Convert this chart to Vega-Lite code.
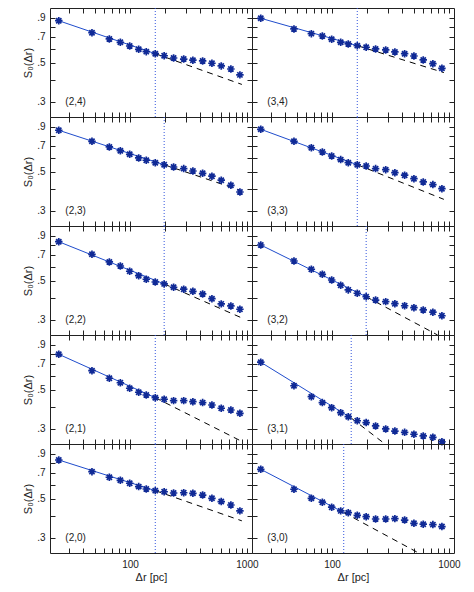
{
"$schema":"https://vega.github.io/schema/vega-lite/v6.json",
"padding":{"left":22,"top":7,"right":5,"bottom":5},
"background":"white",
"columns":2,"spacing":0,"bounds":"flush",
"datasets":{
"pts":[
{"p":"2,4","x":24.6,"y":0.865},{"p":"2,4","x":47.3,"y":0.740},{"p":"2,4","x":66.6,"y":0.682},{"p":"2,4","x":82.7,"y":0.653},{"p":"2,4","x":99.4,"y":0.622},{"p":"2,4","x":118.7,"y":0.596},{"p":"2,4","x":137.8,"y":0.578},{"p":"2,4","x":164.5,"y":0.563},{"p":"2,4","x":196,"y":0.548},{"p":"2,4","x":236,"y":0.532},{"p":"2,4","x":288,"y":0.525},{"p":"2,4","x":345,"y":0.517},{"p":"2,4","x":418,"y":0.512},{"p":"2,4","x":502,"y":0.497},{"p":"2,4","x":603,"y":0.480},{"p":"2,4","x":729,"y":0.461},{"p":"2,4","x":871,"y":0.427},
{"p":"3,4","x":24.6,"y":0.893},{"p":"3,4","x":47.3,"y":0.777},{"p":"3,4","x":66.6,"y":0.731},{"p":"3,4","x":82.7,"y":0.709},{"p":"3,4","x":99.4,"y":0.679},{"p":"3,4","x":118.7,"y":0.653},{"p":"3,4","x":137.8,"y":0.639},{"p":"3,4","x":164.5,"y":0.625},{"p":"3,4","x":196,"y":0.612},{"p":"3,4","x":236,"y":0.599},{"p":"3,4","x":288,"y":0.591},{"p":"3,4","x":345,"y":0.576},{"p":"3,4","x":418,"y":0.563},{"p":"3,4","x":502,"y":0.546},{"p":"3,4","x":603,"y":0.519},{"p":"3,4","x":729,"y":0.494},{"p":"3,4","x":871,"y":0.465},
{"p":"2,3","x":24.6,"y":0.859},{"p":"2,3","x":47.3,"y":0.744},{"p":"2,3","x":66.6,"y":0.691},{"p":"2,3","x":82.7,"y":0.658},{"p":"2,3","x":99.4,"y":0.628},{"p":"2,3","x":118.7,"y":0.599},{"p":"2,3","x":137.8,"y":0.581},{"p":"2,3","x":164.5,"y":0.563},{"p":"2,3","x":196,"y":0.548},{"p":"2,3","x":236,"y":0.532},{"p":"2,3","x":288,"y":0.521},{"p":"2,3","x":345,"y":0.505},{"p":"2,3","x":418,"y":0.490},{"p":"2,3","x":502,"y":0.472},{"p":"2,3","x":603,"y":0.448},{"p":"2,3","x":729,"y":0.419},{"p":"2,3","x":871,"y":0.384},
{"p":"3,3","x":24.6,"y":0.870},{"p":"3,3","x":47.3,"y":0.744},{"p":"3,3","x":66.6,"y":0.684},{"p":"3,3","x":82.7,"y":0.647},{"p":"3,3","x":99.4,"y":0.614},{"p":"3,3","x":118.7,"y":0.586},{"p":"3,3","x":137.8,"y":0.563},{"p":"3,3","x":164.5,"y":0.548},{"p":"3,3","x":196,"y":0.539},{"p":"3,3","x":236,"y":0.521},{"p":"3,3","x":288,"y":0.514},{"p":"3,3","x":345,"y":0.494},{"p":"3,3","x":418,"y":0.478},{"p":"3,3","x":502,"y":0.457},{"p":"3,3","x":603,"y":0.438},{"p":"3,3","x":729,"y":0.423},{"p":"3,3","x":871,"y":0.401},
{"p":"2,2","x":24.6,"y":0.832},{"p":"2,2","x":47.3,"y":0.706},{"p":"2,2","x":66.6,"y":0.639},{"p":"2,2","x":82.7,"y":0.606},{"p":"2,2","x":99.4,"y":0.566},{"p":"2,2","x":118.7,"y":0.534},{"p":"2,2","x":137.8,"y":0.510},{"p":"2,2","x":164.5,"y":0.492},{"p":"2,2","x":196,"y":0.480},{"p":"2,2","x":236,"y":0.459},{"p":"2,2","x":288,"y":0.448},{"p":"2,2","x":345,"y":0.436},{"p":"2,2","x":418,"y":0.421},{"p":"2,2","x":502,"y":0.396},{"p":"2,2","x":603,"y":0.370},{"p":"2,2","x":729,"y":0.360},{"p":"2,2","x":871,"y":0.345},
{"p":"3,2","x":24.6,"y":0.797},{"p":"3,2","x":47.3,"y":0.647},{"p":"3,2","x":66.6,"y":0.581},{"p":"3,2","x":82.7,"y":0.544},{"p":"3,2","x":99.4,"y":0.505},{"p":"3,2","x":118.7,"y":0.472},{"p":"3,2","x":137.8,"y":0.444},{"p":"3,2","x":164.5,"y":0.425},{"p":"3,2","x":196,"y":0.406},{"p":"3,2","x":236,"y":0.389},{"p":"3,2","x":288,"y":0.381},{"p":"3,2","x":345,"y":0.371},{"p":"3,2","x":418,"y":0.361},{"p":"3,2","x":502,"y":0.352},{"p":"3,2","x":603,"y":0.342},{"p":"3,2","x":729,"y":0.332},{"p":"3,2","x":871,"y":0.317},
{"p":"2,1","x":24.6,"y":0.794},{"p":"2,1","x":47.3,"y":0.641},{"p":"2,1","x":66.6,"y":0.581},{"p":"2,1","x":82.7,"y":0.548},{"p":"2,1","x":99.4,"y":0.510},{"p":"2,1","x":118.7,"y":0.484},{"p":"2,1","x":137.8,"y":0.467},{"p":"2,1","x":164.5,"y":0.451},{"p":"2,1","x":196,"y":0.442},{"p":"2,1","x":236,"y":0.434},{"p":"2,1","x":288,"y":0.434},{"p":"2,1","x":345,"y":0.428},{"p":"2,1","x":418,"y":0.423},{"p":"2,1","x":502,"y":0.410},{"p":"2,1","x":603,"y":0.393},{"p":"2,1","x":729,"y":0.384},{"p":"2,1","x":871,"y":0.368},
{"p":"3,1","x":24.6,"y":0.716},{"p":"3,1","x":47.3,"y":0.527},{"p":"3,1","x":66.6,"y":0.457},{"p":"3,1","x":82.7,"y":0.423},{"p":"3,1","x":99.4,"y":0.396},{"p":"3,1","x":118.7,"y":0.371},{"p":"3,1","x":137.8,"y":0.352},{"p":"3,1","x":164.5,"y":0.334},{"p":"3,1","x":196,"y":0.326},{"p":"3,1","x":236,"y":0.312},{"p":"3,1","x":288,"y":0.300},{"p":"3,1","x":345,"y":0.292},{"p":"3,1","x":418,"y":0.287},{"p":"3,1","x":502,"y":0.280},{"p":"3,1","x":603,"y":0.274},{"p":"3,1","x":729,"y":0.269},{"p":"3,1","x":871,"y":0.254},
{"p":"2,0","x":24.6,"y":0.829},{"p":"2,0","x":47.3,"y":0.712},{"p":"2,0","x":66.6,"y":0.662},{"p":"2,0","x":82.7,"y":0.636},{"p":"2,0","x":99.4,"y":0.612},{"p":"2,0","x":118.7,"y":0.586},{"p":"2,0","x":137.8,"y":0.568},{"p":"2,0","x":164.5,"y":0.556},{"p":"2,0","x":196,"y":0.548},{"p":"2,0","x":236,"y":0.539},{"p":"2,0","x":288,"y":0.541},{"p":"2,0","x":345,"y":0.537},{"p":"2,0","x":418,"y":0.525},{"p":"2,0","x":502,"y":0.503},{"p":"2,0","x":603,"y":0.482},{"p":"2,0","x":729,"y":0.461},{"p":"2,0","x":871,"y":0.427},
{"p":"3,0","x":24.6,"y":0.734},{"p":"3,0","x":47.3,"y":0.566},{"p":"3,0","x":66.6,"y":0.503},{"p":"3,0","x":82.7,"y":0.478},{"p":"3,0","x":99.4,"y":0.448},{"p":"3,0","x":118.7,"y":0.427},{"p":"3,0","x":137.8,"y":0.417},{"p":"3,0","x":164.5,"y":0.403},{"p":"3,0","x":196,"y":0.396},{"p":"3,0","x":236,"y":0.384},{"p":"3,0","x":288,"y":0.384},{"p":"3,0","x":345,"y":0.386},{"p":"3,0","x":418,"y":0.379},{"p":"3,0","x":502,"y":0.363},{"p":"3,0","x":603,"y":0.359},{"p":"3,0","x":729,"y":0.357},{"p":"3,0","x":871,"y":0.348}
],
"fit":[
{"p":"2,4","s":"solid","x":24.6,"y":0.865},{"p":"2,4","s":"solid","x":164.5,"y":0.563},{"p":"2,4","s":"dashed","x":164.5,"y":0.563},{"p":"2,4","s":"dashed","x":905,"y":0.377},
{"p":"3,4","s":"solid","x":24.6,"y":0.893},{"p":"3,4","s":"solid","x":164.5,"y":0.625},{"p":"3,4","s":"dashed","x":164.5,"y":0.625},{"p":"3,4","s":"dashed","x":905,"y":0.44},
{"p":"2,3","s":"solid","x":24.6,"y":0.859},{"p":"2,3","s":"solid","x":196,"y":0.548},{"p":"2,3","s":"dashed","x":196,"y":0.548},{"p":"2,3","s":"dashed","x":905,"y":0.39},
{"p":"3,3","s":"solid","x":24.6,"y":0.870},{"p":"3,3","s":"solid","x":164.5,"y":0.548},{"p":"3,3","s":"dashed","x":164.5,"y":0.548},{"p":"3,3","s":"dashed","x":905,"y":0.349},
{"p":"2,2","s":"solid","x":24.6,"y":0.832},{"p":"2,2","s":"solid","x":196,"y":0.480},{"p":"2,2","s":"dashed","x":196,"y":0.480},{"p":"2,2","s":"dashed","x":905,"y":0.308},
{"p":"3,2","s":"solid","x":24.6,"y":0.797},{"p":"3,2","s":"solid","x":196,"y":0.406},{"p":"3,2","s":"dashed","x":196,"y":0.406},{"p":"3,2","s":"dashed","x":800,"y":0.2466},
{"p":"2,1","s":"solid","x":24.6,"y":0.794},{"p":"2,1","s":"solid","x":164.5,"y":0.451},{"p":"2,1","s":"dashed","x":164.5,"y":0.451},{"p":"2,1","s":"dashed","x":905,"y":0.255},
{"p":"3,1","s":"solid","x":24.6,"y":0.716},{"p":"3,1","s":"solid","x":146,"y":0.346},{"p":"3,1","s":"dashed","x":146,"y":0.346},{"p":"3,1","s":"dashed","x":284,"y":0.2466},
{"p":"2,0","s":"solid","x":24.6,"y":0.829},{"p":"2,0","s":"solid","x":164.5,"y":0.556},{"p":"2,0","s":"dashed","x":164.5,"y":0.556},{"p":"2,0","s":"dashed","x":905,"y":0.375},
{"p":"3,0","s":"solid","x":24.6,"y":0.734},{"p":"3,0","s":"solid","x":126,"y":0.418},{"p":"3,0","s":"dashed","x":126,"y":0.418},{"p":"3,0","s":"dashed","x":551,"y":0.2466}
],
"cut":[{"p":"2,4","x":164.5},{"p":"3,4","x":164.5},{"p":"2,3","x":196},{"p":"3,3","x":164.5},{"p":"2,2","x":196},{"p":"3,2","x":196},{"p":"2,1","x":164.5},{"p":"3,1","x":146},{"p":"2,0","x":164.5},{"p":"3,0","x":126}]
},
"concat":[
{"width":202,"height":109,"layer":[
{"data":{"name":"cut"},"transform":[{"filter":"datum.p=='2,4'"}],"mark":{"type":"rule","color":"#3355dd","strokeDash":[1,2],"strokeWidth":1},"encoding":{"x":{"field":"x","type":"quantitative","scale":{"type":"log","domain":[20.7,1105],"nice":false},"axis":{"orient":"top","values":[30,40,50,60,70,80,90,100,200,300,400,500,600,700,800,900,1000],"labels":false,"title":null}}}},
{"data":{"name":"fit"},"transform":[{"filter":"datum.p=='2,4' && datum.s=='dashed'"}],"mark":{"type":"line","color":"black","strokeDash":[6,5],"strokeWidth":1,"clip":true},"encoding":{"x":{"field":"x","type":"quantitative","scale":{"type":"log","domain":[20.7,1105],"nice":false},"axis":null},"y":{"field":"y","type":"quantitative","scale":{"type":"log","domain":[0.2466,1.021],"nice":false},"axis":{"orient":"right","values":[0.3,0.4,0.5,0.6,0.7,0.8,0.9],"labels":false,"title":null}}}},
{"data":{"name":"fit"},"transform":[{"filter":"datum.p=='2,4' && datum.s=='solid'"}],"mark":{"type":"line","color":"#1f4ccc","strokeWidth":1},"encoding":{"x":{"field":"x","type":"quantitative","scale":{"type":"log","domain":[20.7,1105],"nice":false},"axis":null},"y":{"field":"y","type":"quantitative","scale":{"type":"log","domain":[0.2466,1.021],"nice":false},"axis":null}}},
{"data":{"name":"pts"},"transform":[{"filter":"datum.p=='2,4'"}],"mark":{"type":"point","shape":"M-1,0L1,0M0,-1L0,1M-0.7,-0.7L0.7,0.7M-0.7,0.7L0.7,-0.7","filled":false,"stroke":"#102a96","strokeWidth":1.7,"size":56,"opacity":1},"encoding":{"x":{"field":"x","type":"quantitative","scale":{"type":"log","domain":[20.7,1105],"nice":false},"axis":{"orient":"bottom","values":[30,40,50,60,70,80,90,100,200,300,400,500,600,700,800,900,1000],"labels":false,"title":null}},"y":{"field":"y","type":"quantitative","scale":{"type":"log","domain":[0.2466,1.021],"nice":false},"axis":{"orient":"left","values":[0.3,0.4,0.5,0.6,0.7,0.8,0.9],"labelExpr":"round(datum.value*10)%2==1 ? '.'+round(datum.value*10) : ''","title":"S₀(Δr)"}}}},
{"data":{"values":[{"t":"(2,4)"}]},"mark":{"type":"text","align":"left","baseline":"middle","font":"Liberation Sans","fontSize":10,"color":"#222"},"encoding":{"x":{"datum":28,"type":"quantitative","scale":{"type":"log","domain":[20.7,1105],"nice":false},"axis":null},"y":{"datum":0.3,"type":"quantitative","scale":{"type":"log","domain":[0.2466,1.021],"nice":false},"axis":null},"text":{"field":"t"}}}
]},
{"width":202,"height":109,"layer":[
{"data":{"name":"cut"},"transform":[{"filter":"datum.p=='3,4'"}],"mark":{"type":"rule","color":"#3355dd","strokeDash":[1,2],"strokeWidth":1},"encoding":{"x":{"field":"x","type":"quantitative","scale":{"type":"log","domain":[20.7,1105],"nice":false},"axis":{"orient":"top","values":[30,40,50,60,70,80,90,100,200,300,400,500,600,700,800,900,1000],"labels":false,"title":null}}}},
{"data":{"name":"fit"},"transform":[{"filter":"datum.p=='3,4' && datum.s=='dashed'"}],"mark":{"type":"line","color":"black","strokeDash":[6,5],"strokeWidth":1,"clip":true},"encoding":{"x":{"field":"x","type":"quantitative","scale":{"type":"log","domain":[20.7,1105],"nice":false},"axis":null},"y":{"field":"y","type":"quantitative","scale":{"type":"log","domain":[0.2466,1.021],"nice":false},"axis":{"orient":"right","values":[0.3,0.4,0.5,0.6,0.7,0.8,0.9],"labels":false,"title":null}}}},
{"data":{"name":"fit"},"transform":[{"filter":"datum.p=='3,4' && datum.s=='solid'"}],"mark":{"type":"line","color":"#1f4ccc","strokeWidth":1},"encoding":{"x":{"field":"x","type":"quantitative","scale":{"type":"log","domain":[20.7,1105],"nice":false},"axis":null},"y":{"field":"y","type":"quantitative","scale":{"type":"log","domain":[0.2466,1.021],"nice":false},"axis":null}}},
{"data":{"name":"pts"},"transform":[{"filter":"datum.p=='3,4'"}],"mark":{"type":"point","shape":"M-1,0L1,0M0,-1L0,1M-0.7,-0.7L0.7,0.7M-0.7,0.7L0.7,-0.7","filled":false,"stroke":"#102a96","strokeWidth":1.7,"size":56,"opacity":1},"encoding":{"x":{"field":"x","type":"quantitative","scale":{"type":"log","domain":[20.7,1105],"nice":false},"axis":{"orient":"bottom","values":[30,40,50,60,70,80,90,100,200,300,400,500,600,700,800,900,1000],"labels":false,"title":null}},"y":{"field":"y","type":"quantitative","scale":{"type":"log","domain":[0.2466,1.021],"nice":false},"axis":{"orient":"left","values":[0.3,0.4,0.5,0.6,0.7,0.8,0.9],"labels":false,"title":null}}}},
{"data":{"values":[{"t":"(3,4)"}]},"mark":{"type":"text","align":"left","baseline":"middle","font":"Liberation Sans","fontSize":10,"color":"#222"},"encoding":{"x":{"datum":28,"type":"quantitative","scale":{"type":"log","domain":[20.7,1105],"nice":false},"axis":null},"y":{"datum":0.3,"type":"quantitative","scale":{"type":"log","domain":[0.2466,1.021],"nice":false},"axis":null},"text":{"field":"t"}}}
]},
{"width":202,"height":109,"layer":[
{"data":{"name":"cut"},"transform":[{"filter":"datum.p=='2,3'"}],"mark":{"type":"rule","color":"#3355dd","strokeDash":[1,2],"strokeWidth":1},"encoding":{"x":{"field":"x","type":"quantitative","scale":{"type":"log","domain":[20.7,1105],"nice":false},"axis":{"orient":"top","values":[30,40,50,60,70,80,90,100,200,300,400,500,600,700,800,900,1000],"labels":false,"title":null}}}},
{"data":{"name":"fit"},"transform":[{"filter":"datum.p=='2,3' && datum.s=='dashed'"}],"mark":{"type":"line","color":"black","strokeDash":[6,5],"strokeWidth":1,"clip":true},"encoding":{"x":{"field":"x","type":"quantitative","scale":{"type":"log","domain":[20.7,1105],"nice":false},"axis":null},"y":{"field":"y","type":"quantitative","scale":{"type":"log","domain":[0.2466,1.021],"nice":false},"axis":{"orient":"right","values":[0.3,0.4,0.5,0.6,0.7,0.8,0.9],"labels":false,"title":null}}}},
{"data":{"name":"fit"},"transform":[{"filter":"datum.p=='2,3' && datum.s=='solid'"}],"mark":{"type":"line","color":"#1f4ccc","strokeWidth":1},"encoding":{"x":{"field":"x","type":"quantitative","scale":{"type":"log","domain":[20.7,1105],"nice":false},"axis":null},"y":{"field":"y","type":"quantitative","scale":{"type":"log","domain":[0.2466,1.021],"nice":false},"axis":null}}},
{"data":{"name":"pts"},"transform":[{"filter":"datum.p=='2,3'"}],"mark":{"type":"point","shape":"M-1,0L1,0M0,-1L0,1M-0.7,-0.7L0.7,0.7M-0.7,0.7L0.7,-0.7","filled":false,"stroke":"#102a96","strokeWidth":1.7,"size":56,"opacity":1},"encoding":{"x":{"field":"x","type":"quantitative","scale":{"type":"log","domain":[20.7,1105],"nice":false},"axis":{"orient":"bottom","values":[30,40,50,60,70,80,90,100,200,300,400,500,600,700,800,900,1000],"labels":false,"title":null}},"y":{"field":"y","type":"quantitative","scale":{"type":"log","domain":[0.2466,1.021],"nice":false},"axis":{"orient":"left","values":[0.3,0.4,0.5,0.6,0.7,0.8,0.9],"labelExpr":"round(datum.value*10)%2==1 ? '.'+round(datum.value*10) : ''","title":"S₀(Δr)"}}}},
{"data":{"values":[{"t":"(2,3)"}]},"mark":{"type":"text","align":"left","baseline":"middle","font":"Liberation Sans","fontSize":10,"color":"#222"},"encoding":{"x":{"datum":28,"type":"quantitative","scale":{"type":"log","domain":[20.7,1105],"nice":false},"axis":null},"y":{"datum":0.3,"type":"quantitative","scale":{"type":"log","domain":[0.2466,1.021],"nice":false},"axis":null},"text":{"field":"t"}}}
]},
{"width":202,"height":109,"layer":[
{"data":{"name":"cut"},"transform":[{"filter":"datum.p=='3,3'"}],"mark":{"type":"rule","color":"#3355dd","strokeDash":[1,2],"strokeWidth":1},"encoding":{"x":{"field":"x","type":"quantitative","scale":{"type":"log","domain":[20.7,1105],"nice":false},"axis":{"orient":"top","values":[30,40,50,60,70,80,90,100,200,300,400,500,600,700,800,900,1000],"labels":false,"title":null}}}},
{"data":{"name":"fit"},"transform":[{"filter":"datum.p=='3,3' && datum.s=='dashed'"}],"mark":{"type":"line","color":"black","strokeDash":[6,5],"strokeWidth":1,"clip":true},"encoding":{"x":{"field":"x","type":"quantitative","scale":{"type":"log","domain":[20.7,1105],"nice":false},"axis":null},"y":{"field":"y","type":"quantitative","scale":{"type":"log","domain":[0.2466,1.021],"nice":false},"axis":{"orient":"right","values":[0.3,0.4,0.5,0.6,0.7,0.8,0.9],"labels":false,"title":null}}}},
{"data":{"name":"fit"},"transform":[{"filter":"datum.p=='3,3' && datum.s=='solid'"}],"mark":{"type":"line","color":"#1f4ccc","strokeWidth":1},"encoding":{"x":{"field":"x","type":"quantitative","scale":{"type":"log","domain":[20.7,1105],"nice":false},"axis":null},"y":{"field":"y","type":"quantitative","scale":{"type":"log","domain":[0.2466,1.021],"nice":false},"axis":null}}},
{"data":{"name":"pts"},"transform":[{"filter":"datum.p=='3,3'"}],"mark":{"type":"point","shape":"M-1,0L1,0M0,-1L0,1M-0.7,-0.7L0.7,0.7M-0.7,0.7L0.7,-0.7","filled":false,"stroke":"#102a96","strokeWidth":1.7,"size":56,"opacity":1},"encoding":{"x":{"field":"x","type":"quantitative","scale":{"type":"log","domain":[20.7,1105],"nice":false},"axis":{"orient":"bottom","values":[30,40,50,60,70,80,90,100,200,300,400,500,600,700,800,900,1000],"labels":false,"title":null}},"y":{"field":"y","type":"quantitative","scale":{"type":"log","domain":[0.2466,1.021],"nice":false},"axis":{"orient":"left","values":[0.3,0.4,0.5,0.6,0.7,0.8,0.9],"labels":false,"title":null}}}},
{"data":{"values":[{"t":"(3,3)"}]},"mark":{"type":"text","align":"left","baseline":"middle","font":"Liberation Sans","fontSize":10,"color":"#222"},"encoding":{"x":{"datum":28,"type":"quantitative","scale":{"type":"log","domain":[20.7,1105],"nice":false},"axis":null},"y":{"datum":0.3,"type":"quantitative","scale":{"type":"log","domain":[0.2466,1.021],"nice":false},"axis":null},"text":{"field":"t"}}}
]},
{"width":202,"height":109,"layer":[
{"data":{"name":"cut"},"transform":[{"filter":"datum.p=='2,2'"}],"mark":{"type":"rule","color":"#3355dd","strokeDash":[1,2],"strokeWidth":1},"encoding":{"x":{"field":"x","type":"quantitative","scale":{"type":"log","domain":[20.7,1105],"nice":false},"axis":{"orient":"top","values":[30,40,50,60,70,80,90,100,200,300,400,500,600,700,800,900,1000],"labels":false,"title":null}}}},
{"data":{"name":"fit"},"transform":[{"filter":"datum.p=='2,2' && datum.s=='dashed'"}],"mark":{"type":"line","color":"black","strokeDash":[6,5],"strokeWidth":1,"clip":true},"encoding":{"x":{"field":"x","type":"quantitative","scale":{"type":"log","domain":[20.7,1105],"nice":false},"axis":null},"y":{"field":"y","type":"quantitative","scale":{"type":"log","domain":[0.2466,1.021],"nice":false},"axis":{"orient":"right","values":[0.3,0.4,0.5,0.6,0.7,0.8,0.9],"labels":false,"title":null}}}},
{"data":{"name":"fit"},"transform":[{"filter":"datum.p=='2,2' && datum.s=='solid'"}],"mark":{"type":"line","color":"#1f4ccc","strokeWidth":1},"encoding":{"x":{"field":"x","type":"quantitative","scale":{"type":"log","domain":[20.7,1105],"nice":false},"axis":null},"y":{"field":"y","type":"quantitative","scale":{"type":"log","domain":[0.2466,1.021],"nice":false},"axis":null}}},
{"data":{"name":"pts"},"transform":[{"filter":"datum.p=='2,2'"}],"mark":{"type":"point","shape":"M-1,0L1,0M0,-1L0,1M-0.7,-0.7L0.7,0.7M-0.7,0.7L0.7,-0.7","filled":false,"stroke":"#102a96","strokeWidth":1.7,"size":56,"opacity":1},"encoding":{"x":{"field":"x","type":"quantitative","scale":{"type":"log","domain":[20.7,1105],"nice":false},"axis":{"orient":"bottom","values":[30,40,50,60,70,80,90,100,200,300,400,500,600,700,800,900,1000],"labels":false,"title":null}},"y":{"field":"y","type":"quantitative","scale":{"type":"log","domain":[0.2466,1.021],"nice":false},"axis":{"orient":"left","values":[0.3,0.4,0.5,0.6,0.7,0.8,0.9],"labelExpr":"round(datum.value*10)%2==1 ? '.'+round(datum.value*10) : ''","title":"S₀(Δr)"}}}},
{"data":{"values":[{"t":"(2,2)"}]},"mark":{"type":"text","align":"left","baseline":"middle","font":"Liberation Sans","fontSize":10,"color":"#222"},"encoding":{"x":{"datum":28,"type":"quantitative","scale":{"type":"log","domain":[20.7,1105],"nice":false},"axis":null},"y":{"datum":0.3,"type":"quantitative","scale":{"type":"log","domain":[0.2466,1.021],"nice":false},"axis":null},"text":{"field":"t"}}}
]},
{"width":202,"height":109,"layer":[
{"data":{"name":"cut"},"transform":[{"filter":"datum.p=='3,2'"}],"mark":{"type":"rule","color":"#3355dd","strokeDash":[1,2],"strokeWidth":1},"encoding":{"x":{"field":"x","type":"quantitative","scale":{"type":"log","domain":[20.7,1105],"nice":false},"axis":{"orient":"top","values":[30,40,50,60,70,80,90,100,200,300,400,500,600,700,800,900,1000],"labels":false,"title":null}}}},
{"data":{"name":"fit"},"transform":[{"filter":"datum.p=='3,2' && datum.s=='dashed'"}],"mark":{"type":"line","color":"black","strokeDash":[6,5],"strokeWidth":1,"clip":true},"encoding":{"x":{"field":"x","type":"quantitative","scale":{"type":"log","domain":[20.7,1105],"nice":false},"axis":null},"y":{"field":"y","type":"quantitative","scale":{"type":"log","domain":[0.2466,1.021],"nice":false},"axis":{"orient":"right","values":[0.3,0.4,0.5,0.6,0.7,0.8,0.9],"labels":false,"title":null}}}},
{"data":{"name":"fit"},"transform":[{"filter":"datum.p=='3,2' && datum.s=='solid'"}],"mark":{"type":"line","color":"#1f4ccc","strokeWidth":1},"encoding":{"x":{"field":"x","type":"quantitative","scale":{"type":"log","domain":[20.7,1105],"nice":false},"axis":null},"y":{"field":"y","type":"quantitative","scale":{"type":"log","domain":[0.2466,1.021],"nice":false},"axis":null}}},
{"data":{"name":"pts"},"transform":[{"filter":"datum.p=='3,2'"}],"mark":{"type":"point","shape":"M-1,0L1,0M0,-1L0,1M-0.7,-0.7L0.7,0.7M-0.7,0.7L0.7,-0.7","filled":false,"stroke":"#102a96","strokeWidth":1.7,"size":56,"opacity":1},"encoding":{"x":{"field":"x","type":"quantitative","scale":{"type":"log","domain":[20.7,1105],"nice":false},"axis":{"orient":"bottom","values":[30,40,50,60,70,80,90,100,200,300,400,500,600,700,800,900,1000],"labels":false,"title":null}},"y":{"field":"y","type":"quantitative","scale":{"type":"log","domain":[0.2466,1.021],"nice":false},"axis":{"orient":"left","values":[0.3,0.4,0.5,0.6,0.7,0.8,0.9],"labels":false,"title":null}}}},
{"data":{"values":[{"t":"(3,2)"}]},"mark":{"type":"text","align":"left","baseline":"middle","font":"Liberation Sans","fontSize":10,"color":"#222"},"encoding":{"x":{"datum":28,"type":"quantitative","scale":{"type":"log","domain":[20.7,1105],"nice":false},"axis":null},"y":{"datum":0.3,"type":"quantitative","scale":{"type":"log","domain":[0.2466,1.021],"nice":false},"axis":null},"text":{"field":"t"}}}
]},
{"width":202,"height":109,"layer":[
{"data":{"name":"cut"},"transform":[{"filter":"datum.p=='2,1'"}],"mark":{"type":"rule","color":"#3355dd","strokeDash":[1,2],"strokeWidth":1},"encoding":{"x":{"field":"x","type":"quantitative","scale":{"type":"log","domain":[20.7,1105],"nice":false},"axis":{"orient":"top","values":[30,40,50,60,70,80,90,100,200,300,400,500,600,700,800,900,1000],"labels":false,"title":null}}}},
{"data":{"name":"fit"},"transform":[{"filter":"datum.p=='2,1' && datum.s=='dashed'"}],"mark":{"type":"line","color":"black","strokeDash":[6,5],"strokeWidth":1,"clip":true},"encoding":{"x":{"field":"x","type":"quantitative","scale":{"type":"log","domain":[20.7,1105],"nice":false},"axis":null},"y":{"field":"y","type":"quantitative","scale":{"type":"log","domain":[0.2466,1.021],"nice":false},"axis":{"orient":"right","values":[0.3,0.4,0.5,0.6,0.7,0.8,0.9],"labels":false,"title":null}}}},
{"data":{"name":"fit"},"transform":[{"filter":"datum.p=='2,1' && datum.s=='solid'"}],"mark":{"type":"line","color":"#1f4ccc","strokeWidth":1},"encoding":{"x":{"field":"x","type":"quantitative","scale":{"type":"log","domain":[20.7,1105],"nice":false},"axis":null},"y":{"field":"y","type":"quantitative","scale":{"type":"log","domain":[0.2466,1.021],"nice":false},"axis":null}}},
{"data":{"name":"pts"},"transform":[{"filter":"datum.p=='2,1'"}],"mark":{"type":"point","shape":"M-1,0L1,0M0,-1L0,1M-0.7,-0.7L0.7,0.7M-0.7,0.7L0.7,-0.7","filled":false,"stroke":"#102a96","strokeWidth":1.7,"size":56,"opacity":1},"encoding":{"x":{"field":"x","type":"quantitative","scale":{"type":"log","domain":[20.7,1105],"nice":false},"axis":{"orient":"bottom","values":[30,40,50,60,70,80,90,100,200,300,400,500,600,700,800,900,1000],"labels":false,"title":null}},"y":{"field":"y","type":"quantitative","scale":{"type":"log","domain":[0.2466,1.021],"nice":false},"axis":{"orient":"left","values":[0.3,0.4,0.5,0.6,0.7,0.8,0.9],"labelExpr":"round(datum.value*10)%2==1 ? '.'+round(datum.value*10) : ''","title":"S₀(Δr)"}}}},
{"data":{"values":[{"t":"(2,1)"}]},"mark":{"type":"text","align":"left","baseline":"middle","font":"Liberation Sans","fontSize":10,"color":"#222"},"encoding":{"x":{"datum":28,"type":"quantitative","scale":{"type":"log","domain":[20.7,1105],"nice":false},"axis":null},"y":{"datum":0.3,"type":"quantitative","scale":{"type":"log","domain":[0.2466,1.021],"nice":false},"axis":null},"text":{"field":"t"}}}
]},
{"width":202,"height":109,"layer":[
{"data":{"name":"cut"},"transform":[{"filter":"datum.p=='3,1'"}],"mark":{"type":"rule","color":"#3355dd","strokeDash":[1,2],"strokeWidth":1},"encoding":{"x":{"field":"x","type":"quantitative","scale":{"type":"log","domain":[20.7,1105],"nice":false},"axis":{"orient":"top","values":[30,40,50,60,70,80,90,100,200,300,400,500,600,700,800,900,1000],"labels":false,"title":null}}}},
{"data":{"name":"fit"},"transform":[{"filter":"datum.p=='3,1' && datum.s=='dashed'"}],"mark":{"type":"line","color":"black","strokeDash":[6,5],"strokeWidth":1,"clip":true},"encoding":{"x":{"field":"x","type":"quantitative","scale":{"type":"log","domain":[20.7,1105],"nice":false},"axis":null},"y":{"field":"y","type":"quantitative","scale":{"type":"log","domain":[0.2466,1.021],"nice":false},"axis":{"orient":"right","values":[0.3,0.4,0.5,0.6,0.7,0.8,0.9],"labels":false,"title":null}}}},
{"data":{"name":"fit"},"transform":[{"filter":"datum.p=='3,1' && datum.s=='solid'"}],"mark":{"type":"line","color":"#1f4ccc","strokeWidth":1},"encoding":{"x":{"field":"x","type":"quantitative","scale":{"type":"log","domain":[20.7,1105],"nice":false},"axis":null},"y":{"field":"y","type":"quantitative","scale":{"type":"log","domain":[0.2466,1.021],"nice":false},"axis":null}}},
{"data":{"name":"pts"},"transform":[{"filter":"datum.p=='3,1'"}],"mark":{"type":"point","shape":"M-1,0L1,0M0,-1L0,1M-0.7,-0.7L0.7,0.7M-0.7,0.7L0.7,-0.7","filled":false,"stroke":"#102a96","strokeWidth":1.7,"size":56,"opacity":1},"encoding":{"x":{"field":"x","type":"quantitative","scale":{"type":"log","domain":[20.7,1105],"nice":false},"axis":{"orient":"bottom","values":[30,40,50,60,70,80,90,100,200,300,400,500,600,700,800,900,1000],"labels":false,"title":null}},"y":{"field":"y","type":"quantitative","scale":{"type":"log","domain":[0.2466,1.021],"nice":false},"axis":{"orient":"left","values":[0.3,0.4,0.5,0.6,0.7,0.8,0.9],"labels":false,"title":null}}}},
{"data":{"values":[{"t":"(3,1)"}]},"mark":{"type":"text","align":"left","baseline":"middle","font":"Liberation Sans","fontSize":10,"color":"#222"},"encoding":{"x":{"datum":28,"type":"quantitative","scale":{"type":"log","domain":[20.7,1105],"nice":false},"axis":null},"y":{"datum":0.3,"type":"quantitative","scale":{"type":"log","domain":[0.2466,1.021],"nice":false},"axis":null},"text":{"field":"t"}}}
]},
{"width":202,"height":109,"layer":[
{"data":{"name":"cut"},"transform":[{"filter":"datum.p=='2,0'"}],"mark":{"type":"rule","color":"#3355dd","strokeDash":[1,2],"strokeWidth":1},"encoding":{"x":{"field":"x","type":"quantitative","scale":{"type":"log","domain":[20.7,1105],"nice":false},"axis":{"orient":"top","values":[30,40,50,60,70,80,90,100,200,300,400,500,600,700,800,900,1000],"labels":false,"title":null}}}},
{"data":{"name":"fit"},"transform":[{"filter":"datum.p=='2,0' && datum.s=='dashed'"}],"mark":{"type":"line","color":"black","strokeDash":[6,5],"strokeWidth":1,"clip":true},"encoding":{"x":{"field":"x","type":"quantitative","scale":{"type":"log","domain":[20.7,1105],"nice":false},"axis":null},"y":{"field":"y","type":"quantitative","scale":{"type":"log","domain":[0.2466,1.021],"nice":false},"axis":{"orient":"right","values":[0.3,0.4,0.5,0.6,0.7,0.8,0.9],"labels":false,"title":null}}}},
{"data":{"name":"fit"},"transform":[{"filter":"datum.p=='2,0' && datum.s=='solid'"}],"mark":{"type":"line","color":"#1f4ccc","strokeWidth":1},"encoding":{"x":{"field":"x","type":"quantitative","scale":{"type":"log","domain":[20.7,1105],"nice":false},"axis":null},"y":{"field":"y","type":"quantitative","scale":{"type":"log","domain":[0.2466,1.021],"nice":false},"axis":null}}},
{"data":{"name":"pts"},"transform":[{"filter":"datum.p=='2,0'"}],"mark":{"type":"point","shape":"M-1,0L1,0M0,-1L0,1M-0.7,-0.7L0.7,0.7M-0.7,0.7L0.7,-0.7","filled":false,"stroke":"#102a96","strokeWidth":1.7,"size":56,"opacity":1},"encoding":{"x":{"field":"x","type":"quantitative","scale":{"type":"log","domain":[20.7,1105],"nice":false},"axis":{"orient":"bottom","values":[30,40,50,60,70,80,90,100,200,300,400,500,600,700,800,900,1000],"labelExpr":"datum.value==100||datum.value==1000 ? format(datum.value,'d') : ''","labelFlush":true,"labelOverlap":false,"title":"Δr [pc]"}},"y":{"field":"y","type":"quantitative","scale":{"type":"log","domain":[0.2466,1.021],"nice":false},"axis":{"orient":"left","values":[0.3,0.4,0.5,0.6,0.7,0.8,0.9],"labelExpr":"round(datum.value*10)%2==1 ? '.'+round(datum.value*10) : ''","title":"S₀(Δr)"}}}},
{"data":{"values":[{"t":"(2,0)"}]},"mark":{"type":"text","align":"left","baseline":"middle","font":"Liberation Sans","fontSize":10,"color":"#222"},"encoding":{"x":{"datum":28,"type":"quantitative","scale":{"type":"log","domain":[20.7,1105],"nice":false},"axis":null},"y":{"datum":0.3,"type":"quantitative","scale":{"type":"log","domain":[0.2466,1.021],"nice":false},"axis":null},"text":{"field":"t"}}}
]},
{"width":202,"height":109,"layer":[
{"data":{"name":"cut"},"transform":[{"filter":"datum.p=='3,0'"}],"mark":{"type":"rule","color":"#3355dd","strokeDash":[1,2],"strokeWidth":1},"encoding":{"x":{"field":"x","type":"quantitative","scale":{"type":"log","domain":[20.7,1105],"nice":false},"axis":{"orient":"top","values":[30,40,50,60,70,80,90,100,200,300,400,500,600,700,800,900,1000],"labels":false,"title":null}}}},
{"data":{"name":"fit"},"transform":[{"filter":"datum.p=='3,0' && datum.s=='dashed'"}],"mark":{"type":"line","color":"black","strokeDash":[6,5],"strokeWidth":1,"clip":true},"encoding":{"x":{"field":"x","type":"quantitative","scale":{"type":"log","domain":[20.7,1105],"nice":false},"axis":null},"y":{"field":"y","type":"quantitative","scale":{"type":"log","domain":[0.2466,1.021],"nice":false},"axis":{"orient":"right","values":[0.3,0.4,0.5,0.6,0.7,0.8,0.9],"labels":false,"title":null}}}},
{"data":{"name":"fit"},"transform":[{"filter":"datum.p=='3,0' && datum.s=='solid'"}],"mark":{"type":"line","color":"#1f4ccc","strokeWidth":1},"encoding":{"x":{"field":"x","type":"quantitative","scale":{"type":"log","domain":[20.7,1105],"nice":false},"axis":null},"y":{"field":"y","type":"quantitative","scale":{"type":"log","domain":[0.2466,1.021],"nice":false},"axis":null}}},
{"data":{"name":"pts"},"transform":[{"filter":"datum.p=='3,0'"}],"mark":{"type":"point","shape":"M-1,0L1,0M0,-1L0,1M-0.7,-0.7L0.7,0.7M-0.7,0.7L0.7,-0.7","filled":false,"stroke":"#102a96","strokeWidth":1.7,"size":56,"opacity":1},"encoding":{"x":{"field":"x","type":"quantitative","scale":{"type":"log","domain":[20.7,1105],"nice":false},"axis":{"orient":"bottom","values":[30,40,50,60,70,80,90,100,200,300,400,500,600,700,800,900,1000],"labelExpr":"datum.value==100||datum.value==1000 ? format(datum.value,'d') : ''","labelFlush":false,"labelOverlap":false,"title":"Δr [pc]"}},"y":{"field":"y","type":"quantitative","scale":{"type":"log","domain":[0.2466,1.021],"nice":false},"axis":{"orient":"left","values":[0.3,0.4,0.5,0.6,0.7,0.8,0.9],"labels":false,"title":null}}}},
{"data":{"values":[{"t":"(3,0)"}]},"mark":{"type":"text","align":"left","baseline":"middle","font":"Liberation Sans","fontSize":10,"color":"#222"},"encoding":{"x":{"datum":28,"type":"quantitative","scale":{"type":"log","domain":[20.7,1105],"nice":false},"axis":null},"y":{"datum":0.3,"type":"quantitative","scale":{"type":"log","domain":[0.2466,1.021],"nice":false},"axis":null},"text":{"field":"t"}}}
]}
],
"config":{
"view":{"stroke":null},
"axis":{"domainColor":"#222","domainWidth":1,"tickColor":"#222","tickWidth":1,"tickSize":-5,"grid":false,"labelFont":"Liberation Sans","labelFontSize":10,"labelColor":"#222","titleFont":"Liberation Sans","titleFontSize":11,"titleFontWeight":"normal","titleColor":"#222"},
"axisX":{"labelPadding":11,"titlePadding":2},
"axisY":{"labelPadding":10,"titlePadding":3}
}
}
